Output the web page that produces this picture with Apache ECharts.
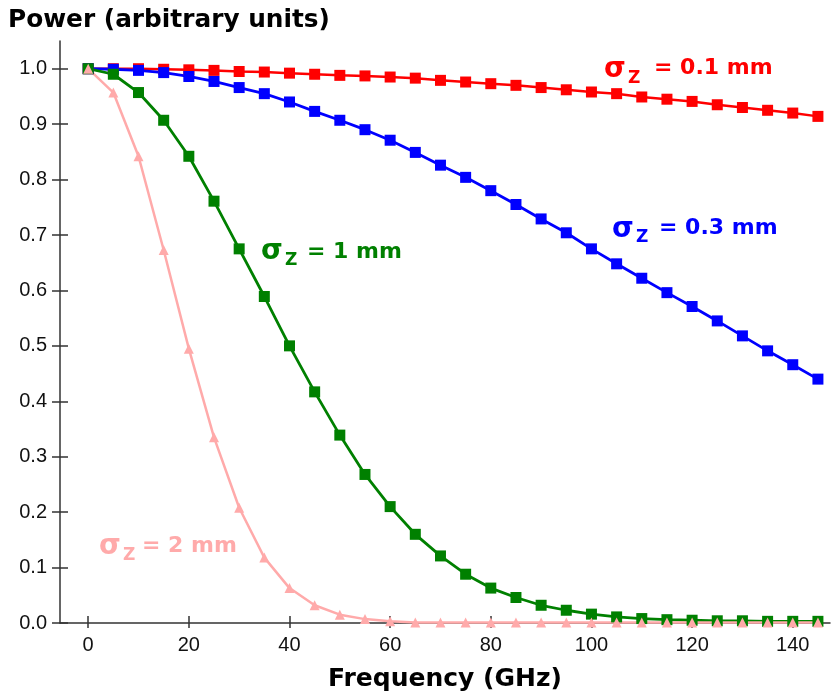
<!DOCTYPE html>
<html>
<head>
<meta charset="utf-8">
<script src="https://cdn.jsdelivr.net/npm/echarts@6/dist/echarts.min.js"></script>
<style>
html,body{margin:0;padding:0;background:#fff;}
#chart{width:835px;height:697px;}
</style>
</head>
<body>
<div id="chart"></div>
<script>
// Frequency (GHz)
const freqs = [0,5,10,15,20,25,30,35,40,45,50,55,60,65,70,75,80,85,90,95,100,105,110,115,120,125,130,135,140,145];
// sigma_z = 0.1 mm
const power01 = [1.000,1.000,1.000,0.999,0.998,0.997,0.995,0.994,0.992,0.990,0.988,0.987,0.985,0.983,0.979,0.976,0.973,0.970,0.966,0.962,0.958,0.955,0.949,0.945,0.941,0.935,0.930,0.925,0.920,0.914];
// sigma_z = 0.3 mm
const power03 = [1.000,0.999,0.997,0.993,0.986,0.977,0.966,0.955,0.940,0.923,0.907,0.890,0.871,0.849,0.826,0.804,0.780,0.755,0.729,0.704,0.675,0.648,0.622,0.596,0.571,0.545,0.518,0.491,0.466,0.440];
// sigma_z = 1 mm
const power1 = [1.000,0.990,0.957,0.907,0.842,0.761,0.675,0.589,0.500,0.417,0.339,0.268,0.210,0.160,0.121,0.088,0.063,0.046,0.032,0.023,0.016,0.011,0.008,0.006,0.005,0.004,0.004,0.003,0.003,0.003];
// sigma_z = 2 mm
const power2 = [1.000,0.957,0.842,0.673,0.495,0.335,0.208,0.118,0.063,0.032,0.015,0.007,0.003,0.001,0.001,0.001,0.001,0.001,0.001,0.001,0.001,0.001,0.001,0.001,0.001,0.001,0.001,0.001,0.001,0.001];

const xTicks = [0,20,40,60,80,100,120,140];
const yTicks = [0,0.1,0.2,0.3,0.4,0.5,0.6,0.7,0.8,0.9,1.0];

const seriesLabels = [
  {text:'= 0.1 mm', color:'#ff0000'},
  {text:'= 0.3 mm', color:'#0000ff'},
  {text:'= 1 mm', color:'#008000'},
  {text:'= 2 mm', color:'#ffaaaa'}
];
// label anchor positions (pixels): sigma x, y ; Z x, y ; text x, y
const labelPos = [
  [604,70, 628,79, 654,68.5],
  [612,230, 636,238, 659,228.5],
  [261,252, 285,261, 307,252.5],
  [99,547, 123,556, 142,546.5]
];

const pair = arr => freqs.map((f,i)=>[f, arr[i]]);

const chart = echarts.init(document.getElementById('chart'), null, {renderer:'canvas'});

const graphics = [{
  type:'text', left:8, top:8,
  style:{text:'Power (arbitrary units)', fill:'#000', fontSize:24.8, fontWeight:'bold', fontFamily:'DejaVu Sans'}
}];
seriesLabels.forEach((l,i)=>{
  const p = labelPos[i];
  graphics.push({type:'text', x:p[0], y:p[1], style:{text:'σ', fill:l.color, fontSize:28, fontWeight:'bold', fontFamily:'DejaVu Sans', textVerticalAlign:'middle'}});
  graphics.push({type:'text', x:p[2], y:p[3], style:{text:'Z', fill:l.color, fontSize:17, fontWeight:'bold', fontFamily:'DejaVu Sans', textVerticalAlign:'middle'}});
  graphics.push({type:'text', x:p[4], y:p[5], style:{text:l.text, fill:l.color, fontSize:22, fontWeight:'bold', fontFamily:'DejaVu Sans', textVerticalAlign:'middle'}});
});

const axisCol = '#333';
const labFont = 'Arial, "Liberation Sans", sans-serif';
const option = {
  animation:false,
  backgroundColor:'#fff',
  grid:{left:60, top:41, width:770, height:585, containLabel:false},
  graphic: graphics,
  xAxis:[{
    type:'value', min:-5.6, max:147.4,
    name:'Frequency (GHz)', nameLocation:'middle', nameGap:44,
    nameTextStyle:{fontSize:25, fontWeight:'bold', fontFamily:'DejaVu Sans', color:'#000'},
    axisLine:{show:true, onZero:false, lineStyle:{color:axisCol, width:1.5}},
    axisTick:{show:true, length:5, customValues:xTicks, lineStyle:{color:axisCol, width:1.5}},
    axisLabel:{customValues:xTicks, margin:12, fontSize:20, color:'#111', fontFamily:labFont},
    splitLine:{show:false}
  },{
    type:'value', min:-5.6, max:147.4, position:'bottom',
    axisLine:{show:false, onZero:false},
    axisTick:{show:true, inside:true, length:7, customValues:xTicks, lineStyle:{color:axisCol, width:1.5}},
    axisLabel:{show:false}, splitLine:{show:false}
  }],
  yAxis:[{
    type:'value', min:0, max:1.05,
    axisLine:{show:true, onZero:false, lineStyle:{color:axisCol, width:1.5}},
    axisTick:{show:true, length:8, customValues:yTicks, lineStyle:{color:axisCol, width:1.5}},
    axisLabel:{customValues:yTicks, margin:13, fontSize:20, color:'#111', fontFamily:labFont, formatter:v=>Number(v).toFixed(1)},
    splitLine:{show:false}
  },{
    type:'value', min:0, max:1.05, position:'left',
    axisLine:{show:false, onZero:false},
    axisTick:{show:true, inside:true, length:8, customValues:yTicks, lineStyle:{color:axisCol, width:1.5}},
    axisLabel:{show:false}, splitLine:{show:false}
  }],
  series:[
    {name:'σz = 0.1 mm', type:'line', data:pair(power01), symbol:'rect', symbolSize:11, itemStyle:{color:'#ff0000'}, lineStyle:{color:'#ff0000', width:2.5}, clip:false},
    {name:'σz = 0.3 mm', type:'line', data:pair(power03), symbol:'rect', symbolSize:11, itemStyle:{color:'#0000ff'}, lineStyle:{color:'#0000ff', width:2.8}, clip:false},
    {name:'σz = 1 mm', type:'line', data:pair(power1), symbol:'rect', symbolSize:11, itemStyle:{color:'#008000'}, lineStyle:{color:'#008000', width:2.8}, clip:false},
    {name:'σz = 2 mm', type:'line', data:pair(power2), symbol:'triangle', symbolSize:10, itemStyle:{color:'#ffaaaa'}, lineStyle:{color:'#ffaaaa', width:2.5}, clip:false}
  ]
};
chart.setOption(option);
</script>
</body>
</html>
